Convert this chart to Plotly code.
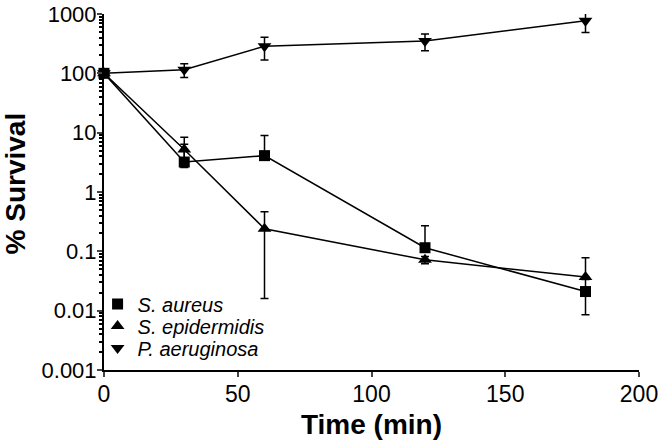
import plotly.graph_objects as go

time_min = [0, 30, 60, 120, 180]

aureus = [100, 3.2, 4.1, 0.115, 0.021]
aureus_err_plus = [0, 3.2, 4.9, 0.155, 0.0125]
aureus_err_minus = [0, 0.6, 0, 0, 0.0125]

epidermidis = [100, 5.2, 0.24, 0.072, 0.037]
epidermidis_err_plus = [0, 3.2, 0.224, 0.01, 0.041]
epidermidis_err_minus = [0, 1.5, 0.224, 0.01, 0]

aeruginosa = [100, 115, 286, 350, 770]
aeruginosa_err_plus = [0, 30, 118, 110, 280]
aeruginosa_err_minus = [0, 30, 118, 110, 280]

series = [
    ("S. aureus", aureus, aureus_err_plus, aureus_err_minus, "square", 11),
    ("S. epidermidis", epidermidis, epidermidis_err_plus, epidermidis_err_minus, "triangle-up", 12),
    ("P. aeruginosa", aeruginosa, aeruginosa_err_plus, aeruginosa_err_minus, "triangle-down", 12),
]

y_ticks = [0.001, 0.01, 0.1, 1, 10, 100, 1000]
y_ticktext = ["0.001", "0.01", "0.1", "1", "10", "100", "1000"]
x_ticks = [0, 50, 100, 150, 200]

minor_vals = [m * d for d in [0.001, 0.01, 0.1, 1, 10, 100] for m in range(2, 10)]

legend_ids = ["legend", "legend2", "legend3"]
legend_y = [0.1854, 0.1236, 0.0618]

fig = go.Figure()
for name, vals, ep, em, sym, size in series:
    fig.add_trace(go.Scatter(
        x=time_min, y=vals, mode="lines+markers", name=name, showlegend=False,
        line=dict(color="black", width=1.5),
        marker=dict(symbol=sym, size=size, color="black"),
        error_y=dict(type="data", symmetric=False, array=ep, arrayminus=em,
                     color="black", thickness=1.5, width=4),
        cliponaxis=False,
    ))
for (name, vals, ep, em, sym, size), lid in zip(series, legend_ids):
    fig.add_trace(go.Scatter(
        x=[None], y=[None], mode="markers", name=name, showlegend=True, legend=lid,
        marker=dict(symbol=sym, size=size, color="black"),
    ))

font_family = "Liberation Sans, Arial, sans-serif"
legend_style = dict(x=-0.012, xanchor="left", yanchor="middle",
                    bgcolor="rgba(0,0,0,0)", font=dict(size=20, style="italic", color="black"),
                    itemwidth=30)
fig.update_layout(
    width=664, height=448,
    margin=dict(l=104, r=25, t=14, b=78),
    paper_bgcolor="white", plot_bgcolor="white",
    font=dict(family=font_family, color="black"),
    showlegend=True,
    legend=dict(y=legend_y[0], **legend_style),
    legend2=dict(y=legend_y[1], **legend_style),
    legend3=dict(y=legend_y[2], **legend_style),
    xaxis=dict(range=[0, 200], tickvals=x_ticks, ticks="outside", ticklen=5, tickwidth=2,
               showline=True, linewidth=2, linecolor="black", showgrid=False, zeroline=False,
               automargin=False, ticklabelstandoff=-3,
               tickfont=dict(size=23, color="black"),
               title=dict(text="<b>Time (min)</b>", font=dict(size=28, color="black"), standoff=9)),
    yaxis=dict(type="log", range=[-3, 3], tickvals=y_ticks, ticktext=y_ticktext,
               ticks="outside", ticklen=5, tickwidth=2, automargin=False, ticklabelstandoff=-4,
               showline=True, linewidth=2, linecolor="black", showgrid=False, zeroline=False,
               tickfont=dict(size=22, color="black"),
               minor=dict(tickmode="array", tickvals=minor_vals, ticks="outside",
                          ticklen=3, tickwidth=1.5, tickcolor="black", showgrid=False)),
    annotations=[dict(text="<b>% Survival</b>", textangle=-90, xref="paper", yref="paper",
                      x=-0.1664, y=0.524, xanchor="center", yanchor="middle", showarrow=False,
                      font=dict(size=28, color="black"))],
)

fig.write_html("out.html", config={"displayModeBar": False},
               post_script="document.body.style.margin='0';document.body.style.overflow='hidden';")
